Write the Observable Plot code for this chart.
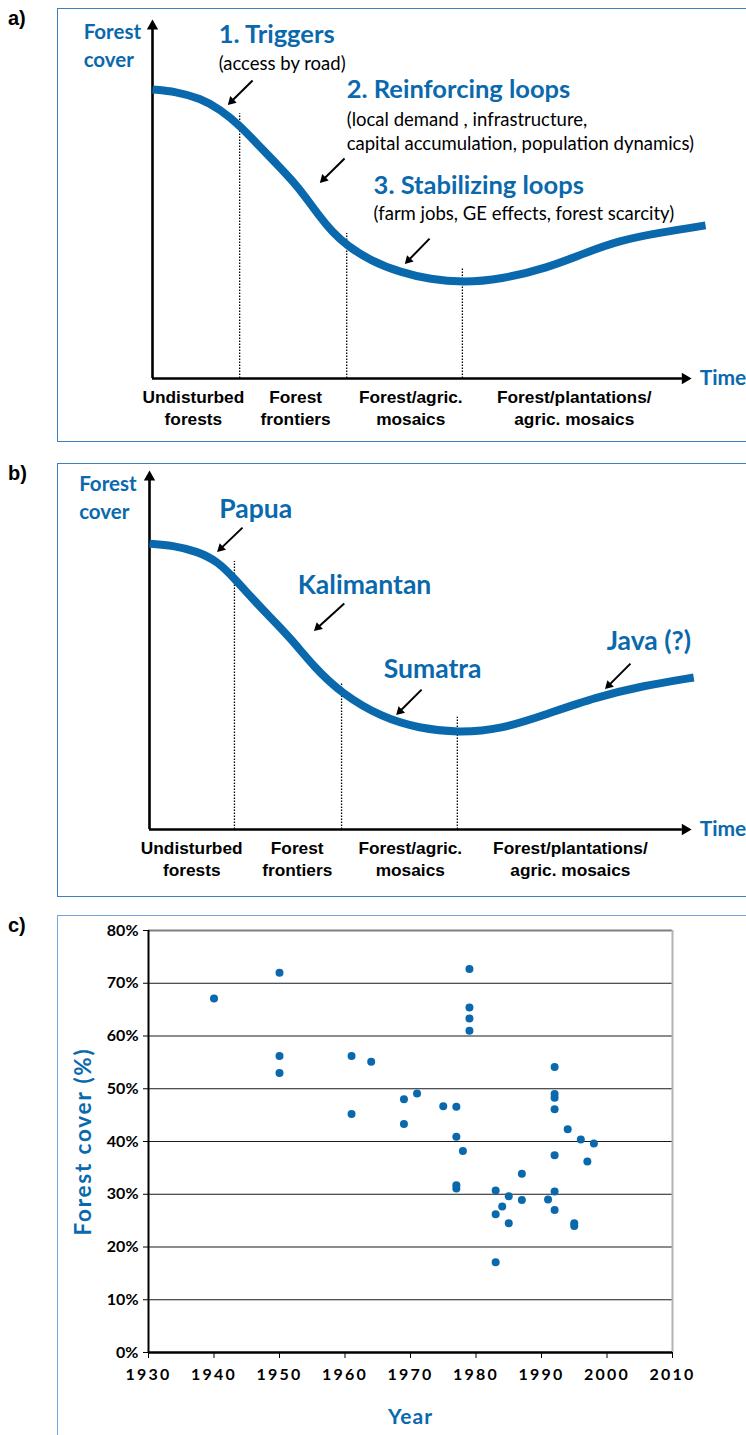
<!DOCTYPE html>
<html><head><meta charset="utf-8">
<script src="https://cdn.jsdelivr.net/npm/d3@7"></script>
<script src="https://cdn.jsdelivr.net/npm/@observablehq/plot@0.6"></script>
<style>
body{margin:0;background:#fff;}
#wrap{position:relative;width:746px;height:1435px;overflow:hidden;background:#fff;}
.pl{position:absolute;left:0;}
.pl svg{overflow:visible;}
.box{position:absolute;border:1.5px solid #3a80c3;box-sizing:border-box;}
.tag{position:absolute;font:bold 20px "Liberation Sans",Arial,sans-serif;color:#000;line-height:20px;}
#pc g[aria-label="x-axis tick label"] text{letter-spacing:2.2px;}
</style></head><body><div id="wrap"></div>
<script>
const BLUE = "#0a69ad";
const NARROW = "'Liberation Sans Narrow','Arial Narrow','Liberation Sans',sans-serif";
const LATO = "Lato, 'Open Sans', sans-serif";

// ---------- Panel a data (time 0..100, forest cover 0..100, schematic) ----------
const curveA_t = [0,4.3,8.9,12.6,16.2,20.1,23.0,26.0,28.4,30.9,33.5,36.1,40.5,46.1,51.7,57.6,64.7,73.6,79.6,86.8,94.4,102.8];
const curveA_c = [81.2,80.6,78.7,75.6,71.1,64.9,60.4,55.6,51.1,45.8,41.0,37.4,33.1,29.8,27.8,27.0,27.8,31.2,34.8,38.8,41.0,43.0];
const stagesA_t = [16.2, 36.1, 57.6];
const stagesA_top = [74.4, 40.7, 30.9];
const stageLabels = ["Undisturbed\nforests","Forest\nfrontiers","Forest/agric.\nmosaics","Forest/plantations/\nagric. mosaics"];
const stageLabelA_t = [7.6, 26.6, 48.0, 78.4];
const headsA = ["1. Triggers","2. Reinforcing loops","3. Stabilizing loops"];
const headsA_t = [12.3, 36.1, 41.1];
const headsA_c = [96.4, 81.2, 54.2];
const notesA = ["(access by road)","(local demand , infrastructure,\ncapital accumulation, population dynamics)","(farm jobs, GE effects, forest scarcity)"];
const notesA_t = [12.3, 36.1, 41.1];
const notesA_c = [88.8, 69.8, 46.9];
const arrowsA = {x1:[18.6,35.7,51.5], y1:[83.7,61.8,39.3], x2:[14.1,31.2,47.0], y2:[77.0,55.1,32.3]};

// ---------- Panel b data ----------
const curveB_t = [0,4.3,8.9,12.6,15.7,19.0,21.8,26.1,30.5,35.5,42.9,49.9,56.9,64.9,73.8,82.4,91.3,100.6];
const curveB_c = [80.3,79.8,78.1,75.3,70.5,64.9,60.4,53.7,45.5,38.2,31.5,28.4,27.2,28.1,32.6,37.1,40.4,42.7];
const stagesB_t = [15.7, 35.5, 56.9];
const stagesB_top = [75.3, 41.3, 31.5];
const stageLabelB_t = [7.8, 27.3, 48.2, 77.8];
const headsB = ["Papua","Kalimantan","Sumatra","Java (?)"];
const headsB_t = [12.9, 27.4, 43.3, 84.5];
const headsB_c = [89.9, 68.5, 44.9, 52.8];
const arrowsB = {x1:[17.2,36.0,50.3,88.9], y1:[84.8,63.5,39.3,46.6], x2:[12.6,30.5,45.7,84.3], y2:[78.1,55.9,32.3,39.6]};

// ---------- Panel c data ----------
const years = [1940,1950,1950,1950,1961,1961,1964,1969,1969,1971,1975,1977,1977,1977,1977,1978,1979,1979,1979,1979,1983,1983,1983,1984,1985,1985,1987,1987,1991,1992,1992,1992,1992,1992,1992,1992,1994,1995,1995,1996,1997,1998];
const cover = [67.1,72.0,56.2,53.0,56.2,45.2,55.1,48.0,43.3,49.1,46.7,46.6,40.9,31.7,31.1,38.2,72.7,65.4,63.3,61.0,30.7,26.2,17.1,27.7,29.6,24.5,33.9,28.9,29.0,54.1,49.0,48.3,46.1,37.4,30.5,27.0,42.3,24.5,24.0,40.4,36.2,39.6];
const yTicks = [0,10,20,30,40,50,60,70,80];
const xTicks = [1930,1940,1950,1960,1970,1980,1990,2000,2010];

const wrap = document.getElementById("wrap");
function add(el, top, id){ const d=document.createElement("div"); d.className="pl"; d.style.top=top+"px"; if(id) d.id=id; d.appendChild(el); wrap.appendChild(d); return el; }
function html(s){ const d=document.createElement("div"); d.innerHTML=s; while(d.firstChild) wrap.appendChild(d.firstChild); }

html(`<div class="box" style="left:57px;top:8px;width:720px;height:434px"></div>
<div class="box" style="left:57px;top:463px;width:720px;height:434px"></div>
<div class="box" style="left:57px;top:915px;width:720px;height:560px;border-color:#6fa8dc"></div>
<div class="tag" style="left:8px;top:8px">a)</div>
<div class="tag" style="left:8px;top:463px">b)</div>
<div class="tag" style="left:8px;top:915px">c)</div>`);

function diagram(o){
  const W = 746;
  const kx = (W - o.ml - o.mr)/100, ky = (o.height - o.mt - o.mb)/100;
  const curve = o.curveT.map((t,i)=>({t, c:o.curveC[i]}));
  const stages = o.stageT.map((t,i)=>({t, top:o.stageTop[i]}));
  const labels = stageLabels.map((s,i)=>({s, t:o.labelT[i]}));
  const heads = o.heads.map((s,i)=>({s, t:o.headT[i], c:o.headC[i]}));
  const notes = (o.notes||[]).map((s,i)=>({s, t:o.noteT[i], c:o.noteC[i]}));
  const back = 4.5; // px: centroid of head behind tip
  const arr = o.arrows.x1.map((_,i)=>{
    const a = {x1:o.arrows.x1[i], y1:o.arrows.y1[i], x2:o.arrows.x2[i], y2:o.arrows.y2[i]};
    const dx = (a.x2-a.x1)*kx, dy = (a.y2-a.y1)*ky, L = Math.hypot(dx,dy);
    a.rot = Math.atan2(dx, dy)*180/Math.PI;
    a.hx = a.x2 - (dx/L*back)/kx; a.hy = a.y2 - (dy/L*back)/ky;
    return a;
  });
  const axisHeads = [{x:0, y:100.5 - 5.4/ky, rot:0},{x:100 - 5.4/kx, y:0, rot:90}];
  return Plot.plot({
    width: W, height: o.height, marginLeft:o.ml, marginRight:o.mr, marginTop:o.mt, marginBottom:o.mb,
    x:{domain:[0,100], axis:null}, y:{domain:[0,100], axis:null},
    style:{background:"transparent", overflow:"visible", fontFamily:LATO},
    marks:[
      Plot.ruleX(stages, {x:"t", y1:0, y2:"top", stroke:"#000", strokeWidth:1.3, strokeDasharray:"1.6,1.4"}),
      Plot.ruleX([0], {y1:0, y2:98, stroke:"#000", strokeWidth:2.6}),
      Plot.ruleY([0], {x1:0, x2:98.5, stroke:"#000", strokeWidth:2.6}),
      Plot.dot(axisHeads, {x:"x", y:"y", rotate:"rot", symbol:"triangle", r:4.2, fill:"#000", stroke:"none"}),
      Plot.line(curve, {x:"t", y:"c", curve:"basis", stroke:BLUE, strokeWidth:8, strokeLinecap:"butt"}),
      Plot.link(arr, {x1:"x1", y1:"y1", x2:"hx", y2:"hy", stroke:"#000", strokeWidth:2}),
      Plot.dot(arr, {x:"hx", y:"hy", rotate:"rot", symbol:"triangle", r:3.4, fill:"#000", stroke:"none"}),
      Plot.text(["Forest","cover"], {x:o.fcT, y:(d,i)=>o.fcC[i], text:d=>d, textAnchor:"start", fill:BLUE, fontWeight:"bold", fontSize:20.5, fontFamily:LATO}),
      Plot.text(["Time"], {x:101.7, y:0, text:d=>d, textAnchor:"start", fill:BLUE, fontWeight:"bold", fontSize:21, fontFamily:LATO}),
      Plot.text(labels, {x:"t", y:-8.1, text:"s", textAnchor:"middle", lineAnchor:"middle", lineHeight:1.25, fill:"#000", fontWeight:"bold", fontSize:17.3, fontFamily:NARROW}),
      Plot.text(heads, {x:"t", y:"c", text:"s", textAnchor:"start", fill:BLUE, fontWeight:"bold", fontSize:o.headSize, fontFamily:LATO}),
      Plot.text(notes, {x:"t", y:"c", text:"s", textAnchor:"start", lineAnchor:"middle", lineHeight:1.35, fill:"#000", fontSize:18.5, fontFamily:LATO})
    ]
  });
}

add(diagram({height:450, ml:152, mr:56, mt:22, mb:72,
  curveT:curveA_t, curveC:curveA_c, stageT:stagesA_t, stageTop:stagesA_top, labelT:stageLabelA_t,
  heads:headsA, headT:headsA_t, headC:headsA_c, notes:notesA, noteT:notesA_t, noteC:notesA_c,
  arrows:arrowsA, fcT:-12.8, fcC:[97.2,89.3], headSize:25.5}), 0);

add(diagram({height:455, ml:149, mr:56, mt:23, mb:76,
  curveT:curveB_t, curveC:curveB_c, stageT:stagesB_t, stageTop:stagesB_top, labelT:stageLabelB_t,
  heads:headsB, headT:headsB_t, headC:headsB_c,
  arrows:arrowsB, fcT:-13.0, fcC:[96.9,89.0], headSize:26.5}), 450);

const pts = years.map((y,i)=>({year:y, cover:cover[i]}));
const svgC = add(Plot.plot({
  width:746, height:530, marginLeft:148, marginRight:74, marginTop:25, marginBottom:83,
  x:{domain:[1930,2010]}, y:{domain:[0,80]},
  style:{background:"transparent", overflow:"visible", fontFamily:LATO},
  marks:[
    Plot.ruleY(yTicks.filter(d=>d>0 && d<80), {stroke:"#1a1a1a", strokeWidth:1}),
    Plot.ruleY([80], {x1:1930, x2:2010, stroke:"#7f7f7f", strokeWidth:2}),
    Plot.ruleX([2010], {y1:0, y2:80, stroke:"#b3b3b3", strokeWidth:2}),
    Plot.axisY({ticks:yTicks, label:null, tickFormat:d=>d+"%", tickSize:5, tickPadding:5, stroke:"#000", fill:"#000", fontSize:16, fontWeight:"bold", fontFamily:LATO}),
    Plot.axisX({ticks:xTicks, label:null, tickFormat:d=>String(d), tickSize:6, tickPadding:10, stroke:"#000", fill:"#000", fontSize:16, fontWeight:"bold", fontFamily:LATO}),
    Plot.ruleX([1930], {y1:0, y2:80, stroke:"#000", strokeWidth:2}),
    Plot.ruleY([0], {x1:1930, x2:2010, stroke:"#000", strokeWidth:2.5}),
    Plot.dot(pts, {x:"year", y:"cover", r:4, fill:BLUE, stroke:"none"}),
    Plot.text(["Forest cover (%)"], {frameAnchor:"left", textAnchor:"middle", rotate:-90, dx:-65, text:d=>d, fill:BLUE, fontWeight:"bold", fontSize:22.5, fontFamily:LATO}),
    Plot.text(["Year"], {frameAnchor:"bottom", textAnchor:"middle", dy:71, text:d=>d, fill:BLUE, fontWeight:"bold", fontSize:21, fontFamily:LATO})
  ]
}), 905, "pc");
d3.select(svgC).selectAll("text").filter(function(){ return this.textContent === "Forest cover (%)"; }).style("letter-spacing", "1.8px");
d3.select(svgC).selectAll("text").filter(function(){ return this.textContent === "Year"; }).style("letter-spacing", "1px");
</script></body></html>
